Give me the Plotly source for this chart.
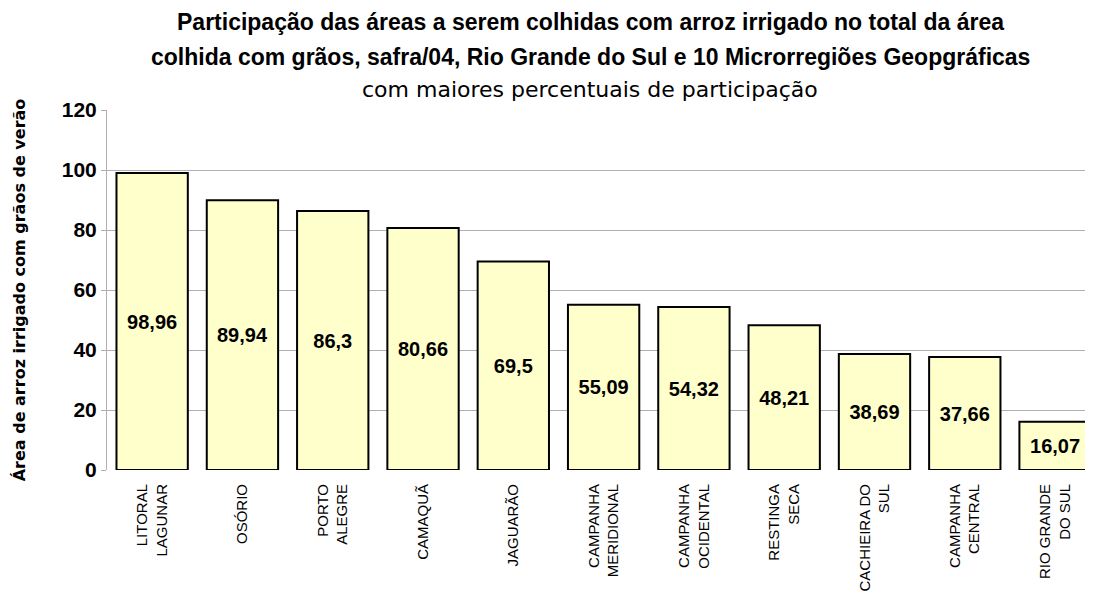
import plotly.graph_objects as go

# ── DADOS ──
regioes = [
    "LITORAL<br>LAGUNAR", "OSÓRIO", "PORTO<br>ALEGRE", "CAMAQUÃ", "JAGUARÃO",
    "CAMPANHA<br>MERIDIONAL", "CAMPANHA<br>OCIDENTAL", "RESTINGA<br>SECA",
    "CACHIEIRA DO<br>SUL", "CAMPANHA<br>CENTRAL", "RIO GRANDE<br>DO SUL",
]
participacao = [98.96, 89.94, 86.3, 80.66, 69.5, 55.09, 54.32, 48.21, 38.69, 37.66, 16.07]
y_ticks = [0, 20, 40, 60, 80, 100, 120]

titulo = [
    "Participação das áreas a serem colhidas com arroz irrigado no total da área",
    "colhida com grãos, safra/04, Rio Grande do Sul e 10 Microrregiões Geopgráficas",
    "com maiores percentuais de participação",
]

rotulos = [str(v).replace(".", ",") for v in participacao]

fig = go.Figure(go.Bar(
    x=regioes,
    y=participacao,
    text=rotulos,
    textposition="inside",
    insidetextanchor="middle",
    textangle=0,
    textfont=dict(family="Arial", size=20, color="black", weight="bold"),
    marker=dict(color="#FFFFCC", line=dict(color="black", width=2)),
    width=0.79,
))

# a página tem 8px de margem no body: a figura é reduzida para compensar
fig.update_layout(
    width=1085, height=584,
    paper_bgcolor="white", plot_bgcolor="white",
    margin=dict(l=99, r=0, t=102, b=122),
    showlegend=False,
    font=dict(family="Arial", color="black"),
)

fig.update_xaxes(
    range=[-0.5, 10.42],
    tickangle=-90,
    tickfont=dict(family="Arial", size=15, color="black"),
    ticklabelstandoff=10,
    showline=False, showgrid=False, ticks="",
    automargin=False,
)

fig.update_yaxes(
    range=[0, 120],
    tickvals=y_ticks,
    tickfont=dict(family="Arial", size=21, color="black", weight="bold"),
    showgrid=True, gridcolor="#B0B0B0", gridwidth=1,
    showline=True, linecolor="#B0B0B0", linewidth=1,
    ticks="outside", ticklen=5, tickcolor="#B0B0B0",
    zeroline=False,
    automargin=False,
    title=dict(text="Área de arroz irrigado com grãos de verão",
               font=dict(family="DejaVu Sans", size=16, color="black", weight="bold"),
               standoff=32),
)

# título em três linhas
for texto, ypos, peso, fam, tam in [
    (titulo[0], 1.244, "bold", "Arial", 23),
    (titulo[1], 1.147, "bold", "Arial", 23),
    (titulo[2], 1.056, "normal", "DejaVu Sans", 22),
]:
    fig.add_annotation(
        text=texto, x=0.49, y=ypos, xref="paper", yref="paper",
        showarrow=False, xanchor="center", yanchor="middle",
        font=dict(family=fam, size=tam, color="black", weight=peso),
    )

fig.write_html("out.html")
